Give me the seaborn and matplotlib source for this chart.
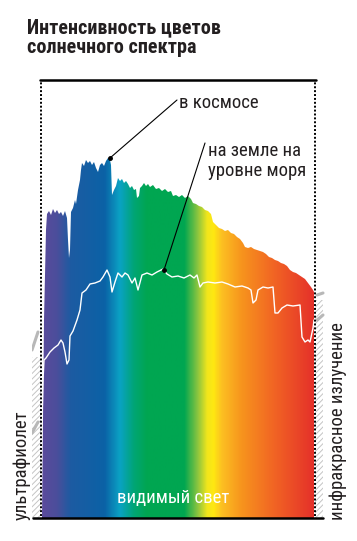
"""
Solar spectrum intensity chart (space vs. sea level)
"""

import matplotlib
matplotlib.use("Agg")
import matplotlib.pyplot as plt
import seaborn as sns
import numpy as np
import pandas as pd
from matplotlib import font_manager
from matplotlib.colors import LinearSegmentedColormap

# Data: wavelength (nm) and intensity (arbitrary units)
space_wl = [400.0, 401.25, 402.5, 405.0, 406.25, 408.75, 411.25, 413.75, 416.25, 418.75,
            421.25, 423.75, 426.25, 428.75, 431.25, 432.5, 433.75, 435.0, 436.25, 438.75,
            441.25, 442.5, 445.0, 447.5, 448.75, 450.0, 452.5, 455.0, 457.5, 460.0,
            462.5, 465.0, 467.5, 470.0, 472.5, 475.0, 477.5, 480.0, 482.5, 485.0,
            486.25, 487.5, 490.0, 492.5, 495.0, 497.5, 500.0, 502.5, 505.0, 507.5,
            510.0, 512.5, 515.0, 517.5, 518.75, 521.25, 522.5, 525.0, 527.5, 530.0,
            532.5, 535.0, 538.75, 542.5, 546.25, 550.0, 553.75, 557.5, 561.25, 563.75,
            567.5, 571.25, 575.0, 578.75, 582.5, 586.25, 588.75, 592.5, 596.25, 600.0,
            603.75, 607.5, 611.25, 613.75, 617.5, 621.25, 625.0, 628.75, 632.5, 636.25,
            640.0, 643.75, 647.5, 651.25, 653.75, 657.5, 661.25, 665.0, 668.75, 672.5,
            676.25, 680.0, 683.75, 687.5, 691.25, 695.0, 698.75, 702.5, 706.25, 710.0,
            713.75, 717.5, 721.25, 725.0, 728.75, 732.5, 736.25, 738.75, 740.0]
space_int = [0.00, 0.98, 1.98, 2.88, 3.04, 3.07, 3.03, 3.09, 3.05, 3.08,
             3.04, 3.06, 3.02, 3.07, 3.00, 2.78, 2.60, 2.68, 3.06, 3.10,
             3.18, 3.14, 3.28, 3.38, 3.48, 3.55, 3.52, 3.58, 3.55, 3.57,
             3.53, 3.56, 3.50, 3.46, 3.53, 3.55, 3.52, 3.57, 3.60, 3.58,
             3.53, 3.23, 3.28, 3.32, 3.40, 3.37, 3.39, 3.35, 3.37, 3.34,
             3.30, 3.32, 3.28, 3.29, 3.20, 3.22, 3.30, 3.32, 3.35, 3.32,
             3.34, 3.31, 3.33, 3.29, 3.30, 3.27, 3.29, 3.26, 3.27, 3.22,
             3.23, 3.21, 3.23, 3.20, 3.22, 3.19, 3.15, 3.14, 3.12, 3.11,
             3.08, 3.07, 3.04, 2.96, 2.93, 2.90, 2.89, 2.87, 2.88, 2.85,
             2.84, 2.81, 2.79, 2.75, 2.71, 2.70, 2.71, 2.69, 2.68, 2.67,
             2.66, 2.64, 2.61, 2.60, 2.58, 2.57, 2.55, 2.54, 2.52, 2.48,
             2.46, 2.45, 2.43, 2.41, 2.39, 2.35, 2.31, 2.28, 2.26]

ground_wl = [400.0, 401.25, 402.5, 405.0, 410.0, 415.0, 420.0, 423.75, 426.25, 428.75,
             431.25, 433.75, 435.0, 438.75, 443.75, 447.5, 450.0, 455.0, 460.0, 466.25,
             472.5, 476.25, 481.25, 485.0, 487.5, 491.25, 495.0, 500.0, 503.75, 507.5,
             512.5, 516.25, 520.0, 525.0, 531.25, 537.5, 543.75, 551.25, 556.25, 562.5,
             570.0, 577.5, 585.0, 590.0, 593.75, 597.5, 601.25, 607.5, 616.25, 625.0,
             632.5, 641.25, 650.0, 657.5, 661.25, 663.75, 667.5, 670.0, 676.25, 682.5,
             688.75, 691.25, 695.0, 700.0, 706.25, 713.75, 722.5, 725.0, 728.75, 732.5,
             735.0, 738.75, 740.0]
ground_int = [0.98, 1.38, 1.58, 1.60, 1.66, 1.70, 1.73, 1.78, 1.75, 1.66,
              1.54, 1.58, 1.82, 1.87, 1.98, 2.08, 2.25, 2.28, 2.34, 2.35,
              2.37, 2.41, 2.48, 2.41, 2.26, 2.36, 2.45, 2.41, 2.45, 2.43,
              2.35, 2.40, 2.28, 2.43, 2.45, 2.43, 2.46, 2.49, 2.44, 2.41,
              2.42, 2.40, 2.43, 2.40, 2.43, 2.31, 2.35, 2.36, 2.35, 2.36,
              2.34, 2.31, 2.32, 2.30, 2.28, 2.15, 2.18, 2.28, 2.31, 2.30,
              2.31, 2.05, 2.05, 2.10, 2.13, 2.12, 2.13, 1.81, 1.76, 1.78,
              1.76, 1.90, 1.98]

# grey continuations outside the visible range
uv_wl = [387.5, 395.0]
uv_space = [1.68, 1.86]
uv_ground = [0.85, 0.96]
ir_wl = [743.75, 751.25]
ir_space = [2.23, 2.25]
ir_ground = [1.98, 2.03]

# rainbow colour stops (nm, colour)
stop_wl = [400, 418, 435, 478, 497, 515, 531, 578, 595, 607, 615, 625, 650, 691, 740]
stop_col = ['#5a4b9c', '#4b4e9b', '#1d5ba2', '#0b62a6', '#0aa2c4', '#00a574', '#00a651',
            '#00a651', '#8cc53f', '#f2e61c', '#ffe811', '#fcc022', '#f7941d', '#f16424',
            '#e5312a']

title = "Интенсивность цветов\nсолнечного спектра"
label_space = "в космосе"
label_ground = "на земле на\nуровне моря"
label_uv = "ультрафиолет"
label_ir = "инфракрасное излучение"
label_vis = "видимый свет"

# Style
sns.set_style("white")


def pick_font():
    fonts = font_manager.fontManager.ttflist
    names = {f.name for f in fonts}
    for p in ['Liberation Sans Narrow', 'Roboto Condensed', 'Noto Sans Condensed',
              'Open Sans Condensed', 'DejaVu Sans Condensed', 'Noto Sans SemiCondensed']:
        if p in names:
            return p, 'normal'
    for fam in ['Noto Sans', 'DejaVu Sans', 'Open Sans', 'Roboto']:
        for f in fonts:
            if f.name == fam and f.stretch in ('condensed', 'semi-condensed', 'extra-condensed'):
                return fam, f.stretch
    return 'Roboto', 'normal'


font, stretch = pick_font()
plt.rcParams['font.family'] = [font, 'DejaVu Sans']
plt.rcParams['font.stretch'] = stretch
plt.rcParams['hatch.color'] = '#c4c4c4'
plt.rcParams['hatch.linewidth'] = 0.7
txt_col = '#231f20'

W, H = 357, 541
fig = plt.figure(figsize=(W / 100, H / 100), dpi=100)
ax = fig.add_axes([32 / W, 23 / H, 293 / W, 438 / H])

# hatched side regions
ax.fill_between([387.5, 398.75], 0, 1.61, facecolor='none', edgecolor='#c4c4c4',
                hatch='//////', linewidth=0)
ax.fill_between([741.25, 751.25], 0, 2.18, facecolor='none', edgecolor='#c4c4c4',
                hatch='//////', linewidth=0)
for xs, ys in [(uv_wl, uv_space), (uv_wl, uv_ground), (ir_wl, ir_space), (ir_wl, ir_ground)]:
    ax.plot(xs, ys, color='#b8b8b8', lw=2.2, solid_capstyle='round')

# rainbow fill under the space curve
pos = [(w - stop_wl[0]) / (stop_wl[-1] - stop_wl[0]) for w in stop_wl]
cmap = LinearSegmentedColormap.from_list('spec', list(zip(pos, stop_col)))
poly = ax.fill_between(space_wl, 0, space_int, facecolor='none', linewidth=0)
grad = np.linspace(0, 1, 800).reshape(1, -1)
img = ax.imshow(grad, cmap=cmap, extent=[400, 740, 0, 4.38], aspect='auto',
                interpolation='bilinear', origin='lower', zorder=2)
img.set_clip_path(poly.get_paths()[0], transform=ax.transData)

# sea-level curve
df_ground = pd.DataFrame({'wl': ground_wl, 'val': ground_int})
sns.lineplot(data=df_ground, x='wl', y='val', color='white', lw=1.0, ax=ax, zorder=4)
ax.set_xlim(387.5, 753.75)
ax.set_ylim(0, 4.38)
ax.axis('off')

# frame: dotted sides, solid top/bottom
for xv in [398.75, 741.25]:
    ax.plot([xv, xv], [0.02, 4.36], color='black', lw=1.4, linestyle=(0, (1, 1)), zorder=5)
ax.plot([397.5, 742.5], [4.38, 4.38], color='black', lw=1.8, clip_on=False, zorder=6)
ax.plot([388.75, 751.25], [0, 0], color='black', lw=1.8, clip_on=False, zorder=6)

# leader lines and labels
ax.plot([485.0, 568.75], [3.60, 4.18], color='black', lw=0.8, zorder=6)
ax.plot([485.0], [3.60], 'o', color='black', ms=2.5, zorder=6)
ax.text(571.25, 4.15, label_space, fontsize=13.5, color=txt_col, ha='left', va='center', zorder=6)

ax.plot([552.5, 603.75], [2.48, 3.75], color='black', lw=0.8, zorder=6)
ax.plot([552.5], [2.48], 'o', color='black', ms=2.5, zorder=6)
ax.text(607.5, 3.57, label_ground, fontsize=13.5, color=txt_col, ha='left', va='center',
        linespacing=1.2, zorder=6)

ax.text(563.75, 0.20, label_vis, fontsize=13.5, color='white', ha='center', va='center', zorder=6)

fig.text(22 / W, 1 - 520 / H, label_uv, rotation=90, fontsize=13.5, color=txt_col,
         ha='center', va='bottom')
fig.text(338 / W, 1 - 520 / H, label_ir, rotation=90, fontsize=13.5, color=txt_col,
         ha='center', va='bottom')

fig.text(27 / W, 1 - 18 / H, title, fontsize=14.5, fontweight='bold', color=txt_col,
         ha='left', va='top', linespacing=1.05)

fig.savefig('out.png', dpi=100)
